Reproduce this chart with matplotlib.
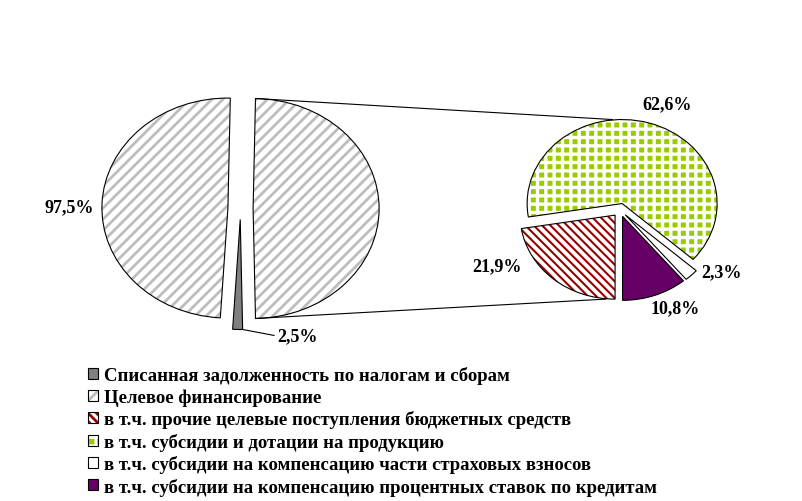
import numpy as np
import matplotlib
matplotlib.use("Agg")
import matplotlib.pyplot as plt
from matplotlib.patches import ConnectionPatch
from matplotlib.legend_handler import HandlerTuple

plt.rcParams['font.family'] = ['Liberation Serif', 'DejaVu Serif']
plt.rcParams['font.weight'] = 'bold'
plt.rcParams['hatch.linewidth'] = 2.0

# primary pie
main_labels = ["Списанная задолженность по налогам и сборам", "Целевое финансирование"]
main_values = [2.5, 97.5]
# secondary pie: breakdown of target financing
sub_labels = ["в т.ч. прочие целевые поступления бюджетных средств",
              "в т.ч. субсидии и дотации на продукцию",
              "в т.ч. субсидии на компенсацию части страховых взносов",
              "в т.ч. субсидии на компенсацию процентных ставок по кредитам"]
sub_values = [21.9, 62.6, 2.3, 10.8]

W, H = 802, 502
fig = plt.figure(figsize=(W / 100, H / 100), dpi=100)


def px_axes(cx, cy, rx, ry, pad=1.3):
    # axes placed in image pixels so that radius 1 -> (rx, ry): gives Excel's oval pies
    return fig.add_axes([(cx - pad * rx) / W, (H - cy - pad * ry) / H,
                         2 * pad * rx / W, 2 * pad * ry / H])


def pct(v):
    return f"{v:.1f}%".replace(".", ",")


def draw_pie(ax, values, styles, start, explode):
    kw = dict(startangle=start, counterclock=False, explode=explode, radius=1)
    fills, _ = ax.pie(values, colors=[s[0] for s in styles],
                      wedgeprops=dict(linewidth=0), **kw)
    for w, (fc, hatch, hc, hlw) in zip(fills, styles):
        if hatch:
            w.set_edgecolor(hc)
            w.set_hatch(hatch)
            if hasattr(w, 'set_hatch_linewidth'):
                w.set_hatch_linewidth(hlw)
    edges, _ = ax.pie(values, wedgeprops=dict(fill=False, edgecolor='black', linewidth=0.8), **kw)
    ax.set_aspect('auto')
    ax.set_xlim(-1.3, 1.3)
    ax.set_ylim(-1.3, 1.3)
    ax.axis('off')
    return fills, edges


ax1 = px_axes(240.5, 209.5, 126, 110)
ax2 = px_axes(620, 211, 95, 84)

other = sum(sub_values)
total = sum(main_values) + other
main_styles = [('#808080', None, None, 0),
               ('white', '///', '#BDBDBD', 2.0),
               ('white', '///', '#BDBDBD', 2.0)]
f1, e1 = draw_pie(ax1, main_values + [other], main_styles,
                  -180 * other / total, [0.1, 0.1, 0.1])

sub_styles = [('white', '\\\\\\\\', '#990000', 1.5),
              ('#99CC00', '++', 'white', 2.4),
              ('white', None, None, 0),
              ('#660066', None, None, 0)]
f2, e2 = draw_pie(ax2, sub_values, sub_styles, -90, [0.08] * 4)

# connector lines from the "other" slice to the secondary pie
ow = e1[2]
for th, tw, sign in [(ow.theta2, e2[1], 1), (ow.theta1, e2[0], -1)]:
    pa = (ow.center[0] + np.cos(np.radians(th)), ow.center[1] + np.sin(np.radians(th)))
    pb = (tw.center[0] - 0.1, tw.center[1] + sign * tw.r)
    fig.add_artist(ConnectionPatch(pa, pb, coordsA=ax1.transData, coordsB=ax2.transData,
                                   color='black', lw=0.8))

# data labels
fs = 13


def label(x, y, v):
    fig.text(x / W, 1 - y / H, pct(v), ha='center', va='center', fontsize=fs)


label(69, 208, main_values[1])
label(497, 267, sub_values[0])
label(667, 105, sub_values[1])
label(721, 273, sub_values[2])
label(675, 309, sub_values[3])

gw = e1[0]
gp = (gw.center[0] + np.cos(np.radians(gw.theta2)), gw.center[1] + np.sin(np.radians(gw.theta2)))
ax1.annotate(pct(main_values[0]), xy=gp, xycoords='data', xytext=(277, H - 337),
             textcoords='figure pixels', ha='left', va='center', fontsize=fs,
             arrowprops=dict(arrowstyle='-', lw=0.8, color='black', shrinkA=0, shrinkB=0,
                             relpos=(0, 0.5)))

handles = [(f1[0], e1[0]), (f1[1], e1[1])] + [(f, e) for f, e in zip(f2, e2)]
fig.legend(handles, main_labels + sub_labels, handler_map={tuple: HandlerTuple(ndivide=1, pad=0)},
           loc='upper left', bbox_to_anchor=(88 / W, 1 - 367 / H), frameon=False,
           fontsize=13.5, handlelength=0.53, handleheight=0.53, handletextpad=0.32,
           labelspacing=0.235, borderpad=0, borderaxespad=0)

fig.savefig("out.png", dpi=100)
